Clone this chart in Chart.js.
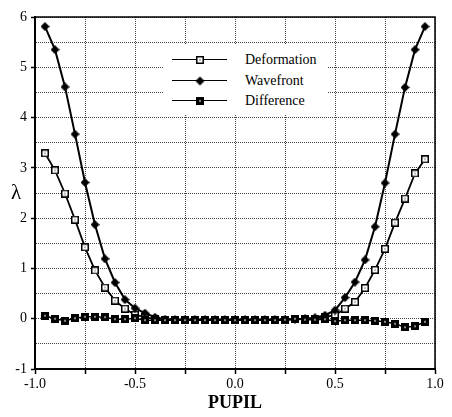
<!DOCTYPE html>
<html><head><meta charset="utf-8">
<script src="https://cdn.jsdelivr.net/npm/chart.js@4/dist/chart.umd.min.js"></script>
<style>
html,body{margin:0;padding:0;background:#fff;}
#wrap{position:relative;width:452px;height:417px;overflow:hidden;}
canvas#c{display:block;}
#lambda{position:absolute;left:11px;top:180px;font:21px "Liberation Serif",serif;color:#000;line-height:24px;}
#legend{position:absolute;left:163px;top:45px;width:164px;height:70px;background:#fff;font:14px "Liberation Serif",serif;color:#000;}
.row{position:absolute;left:0;width:100%;height:20px;}
.sample{position:absolute;left:9px;top:9px;width:55px;height:0;border-top:1.5px solid #000;}
.mk{position:absolute;left:37px;top:10px;transform:translate(-50%,-50%);}
.txt{position:absolute;left:82px;top:0;line-height:20px;white-space:nowrap;}
</style>
</head><body>
<div id="wrap">
<canvas id="c" width="452" height="417"></canvas>
<div id="lambda">λ</div>
<div id="legend"></div>
</div>
<script>
// ---- data ----
const pupil = [-0.95,-0.90,-0.85,-0.80,-0.75,-0.70,-0.65,-0.60,-0.55,-0.50,-0.45,-0.40,-0.35,-0.30,-0.25,-0.20,-0.15,-0.10,-0.05,0.00,0.05,0.10,0.15,0.20,0.25,0.30,0.35,0.40,0.45,0.50,0.55,0.60,0.65,0.70,0.75,0.80,0.85,0.90,0.95];
const deformation = [3.29,2.95,2.49,1.97,1.42,0.96,0.62,0.36,0.20,0.08,0.03,-0.01,-0.02,-0.02,-0.02,-0.02,-0.02,-0.02,-0.02,-0.02,-0.02,-0.02,-0.02,-0.02,-0.02,-0.01,-0.01,0.00,0.03,0.07,0.20,0.33,0.61,0.97,1.39,1.91,2.39,2.89,3.17];
const wavefront = [5.81,5.35,4.61,3.67,2.71,1.87,1.19,0.72,0.38,0.21,0.11,0.03,-0.01,-0.02,-0.02,-0.02,-0.02,-0.02,-0.02,-0.02,-0.02,-0.02,-0.02,-0.02,-0.02,-0.01,0.00,0.02,0.07,0.17,0.42,0.73,1.17,1.83,2.70,3.67,4.60,5.35,5.81];
const difference = [0.06,0.00,-0.04,0.01,0.04,0.04,0.03,-0.01,-0.01,0.01,-0.03,-0.03,-0.03,-0.03,-0.03,-0.03,-0.03,-0.03,-0.03,-0.03,-0.03,-0.03,-0.03,-0.03,-0.02,0.00,-0.02,-0.02,-0.01,-0.05,-0.03,-0.03,-0.03,-0.04,-0.06,-0.10,-0.17,-0.15,-0.06];
const seriesNames = ['Deformation','Wavefront','Difference'];
const xTickLabels = ['-1.0','-0.5','0.0','0.5','1.0'];
const yTickLabels = ['-1','0','1','2','3','4','5','6'];

// ---- marker images ----
function mkCanvas(w,h,draw){const c=document.createElement('canvas');c.width=w;c.height=h;draw(c.getContext('2d'));return c;}
const openSq = mkCanvas(8,8,g=>{g.fillStyle='#000';g.fillRect(0,0,8,8);g.fillStyle='#fff';g.fillRect(1.5,1.5,5,5);g.fillStyle='#000';g.fillRect(3.5,3.5,1,1);});
const diamond = mkCanvas(9,9,g=>{g.fillStyle='#000';g.beginPath();g.moveTo(4.5,0);g.lineTo(9,4.5);g.lineTo(4.5,9);g.lineTo(0,4.5);g.closePath();g.fill();});
const solidSq = mkCanvas(8,8,g=>{g.fillStyle='#000';g.fillRect(0,0,8,8);g.fillStyle='#888';g.fillRect(3,3,2,2);});
const markers=[openSq,diamond,solidSq];

const pts = arr => pupil.map((x,i)=>({x:x,y:arr[i]}));

const frame = {id:'frame',beforeDatasetsDraw(chart){const {ctx,chartArea:a}=chart;ctx.save();ctx.strokeStyle='#000';ctx.lineWidth=1.5;ctx.beginPath();ctx.moveTo(a.left,a.top);ctx.lineTo(a.right,a.top);ctx.lineTo(a.right,a.bottom);ctx.stroke();ctx.restore();}};

const serif = "'Liberation Serif', 'Times New Roman', serif";
const isHalf = v => Math.abs(v*2-Math.round(v*2))<1e-9;
const isInt = v => Math.abs(v-Math.round(v))<1e-9;

new Chart(document.getElementById('c'),{
  type:'line',
  data:{datasets:[
    {label:seriesNames[0],data:pts(deformation),borderColor:'#000',borderWidth:1.8,pointStyle:openSq,pointRadius:4,order:2,tension:0},
    {label:seriesNames[1],data:pts(wavefront),borderColor:'#000',borderWidth:2,pointStyle:diamond,pointRadius:4,order:1,tension:0},
    {label:seriesNames[2],data:pts(difference),borderColor:'#000',borderWidth:1.5,pointStyle:solidSq,pointRadius:4,order:0,tension:0}
  ]},
  options:{
    responsive:false,animation:false,events:[],
    layout:{padding:{top:17,right:17,left:0,bottom:0}},
    plugins:{legend:{display:false},tooltip:{enabled:false}},
    scales:{
      x:{type:'linear',min:-1,max:1,
        ticks:{stepSize:0.25,autoSkip:false,maxRotation:0,color:'#000',padding:2,font:{family:serif,size:14},
          callback:v=>{if(!isHalf(v))return '';const k=Math.round((v+1)*2);return xTickLabels[k];}},
        grid:{color:'#444',lineWidth:1,tickLength:5,tickColor:'#000',tickWidth:1.5},
        border:{display:true,color:'#000',width:2,dash:[1,1]},
        title:{display:true,text:'PUPIL',color:'#000',font:{family:serif,size:18,weight:'bold'},padding:{top:0,bottom:3}},
        afterFit:s=>{s.height=48;}
      },
      y:{type:'linear',min:-1,max:6,
        ticks:{stepSize:0.5,autoSkip:false,color:'#000',padding:4,font:{family:serif,size:14},
          callback:v=>isInt(v)?yTickLabels[Math.round(v)+1]:''},
        grid:{color:'#444',lineWidth:1,tickLength:4,tickWidth:1.5,
          tickColor:ctx=>(ctx.tick&&isInt(ctx.tick.value))?'#000':'rgba(0,0,0,0)'},
        border:{display:true,color:'#000',width:2,dash:[1,1]},
        afterFit:s=>{s.width=35;}
      }
    }
  },
  plugins:[frame]
});

// ---- HTML legend ----
const leg=document.getElementById('legend');
const rowTops=[5,26,46];
seriesNames.forEach((n,i)=>{
  const r=document.createElement('div');r.className='row';r.style.top=rowTops[i]+'px';
  const s=document.createElement('div');s.className='sample';r.appendChild(s);
  const im=document.createElement('img');im.className='mk';im.src=markers[i].toDataURL();r.appendChild(im);
  const t=document.createElement('span');t.className='txt';t.textContent=n;r.appendChild(t);
  leg.appendChild(r);
});
</script>
</body></html>
